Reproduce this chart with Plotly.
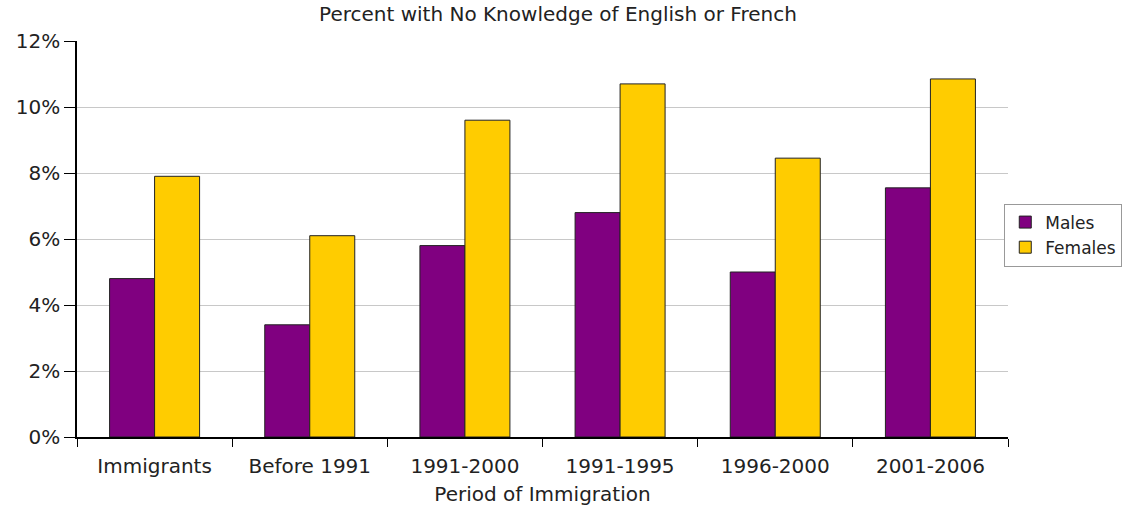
import plotly.graph_objects as go

categories = ["Immigrants", "Before 1991", "1991-2000", "1991-1995", "1996-2000", "2001-2006"]
males = [4.8, 3.4, 5.8, 6.8, 5.0, 7.55]
females = [7.9, 6.1, 9.6, 10.7, 8.45, 10.85]
y_tick_vals = [0, 2, 4, 6, 8, 10, 12]
y_tick_text = ["0%", "2%", "4%", "6%", "8%", "10%", "12%"]

FONT = "DejaVu Sans"
FS = 20
fig = go.Figure()
fig.add_trace(go.Bar(name="Males", x=categories, y=males,
                     marker=dict(color="#800080", line=dict(color="#222222", width=1))))
fig.add_trace(go.Bar(name="Females", x=categories, y=females,
                     marker=dict(color="#FFCC00", line=dict(color="#222222", width=1))))

fig.update_layout(
    width=1126, height=510,
    margin=dict(l=77, r=118, t=41, b=73, autoexpand=False),
    paper_bgcolor="white", plot_bgcolor="white",
    barmode="group", bargap=0.42, bargroupgap=0,
    font=dict(family=FONT, size=FS, color="#222222"),
    title=dict(text="Percent with No Knowledge of English or French",
               x=0.4955, xanchor="center", y=0.972, yanchor="middle",
               font=dict(family=FONT, size=FS, color="#222222")),
    legend=dict(x=0.996, xanchor="left", y=0.51, yanchor="middle",
                bordercolor="#999999", borderwidth=1, bgcolor="white",
                font=dict(family=FONT, size=17, color="#222222"),
                tracegroupgap=0, itemwidth=30),
    showlegend=True,
)
fig.update_xaxes(
    type="category", showline=True, linecolor="#000000", linewidth=1.5,
    ticks="outside", tickson="boundaries", ticklen=8, tickcolor="#000000",
    ticklabelstandoff=10,
    tickfont=dict(family=FONT, size=FS, color="#222222"),
    title=dict(text="Period of Immigration", standoff=10,
               font=dict(family=FONT, size=FS, color="#222222")),
    showgrid=False, mirror=False, automargin=False,
)
fig.update_yaxes(
    range=[0, 12], tickvals=y_tick_vals, ticktext=y_tick_text,
    showline=True, linecolor="#000000", linewidth=1.5,
    ticks="outside", ticklen=11, tickcolor="#000000",
    tickfont=dict(family=FONT, size=FS, color="#222222"),
    showgrid=True, gridcolor="#c8c8c8", gridwidth=1, zeroline=False,
    automargin=False,
)

fig.write_html("out.html",
               config={"displayModeBar": False},
               post_script="document.body.style.margin='0';document.body.style.padding='0';")
